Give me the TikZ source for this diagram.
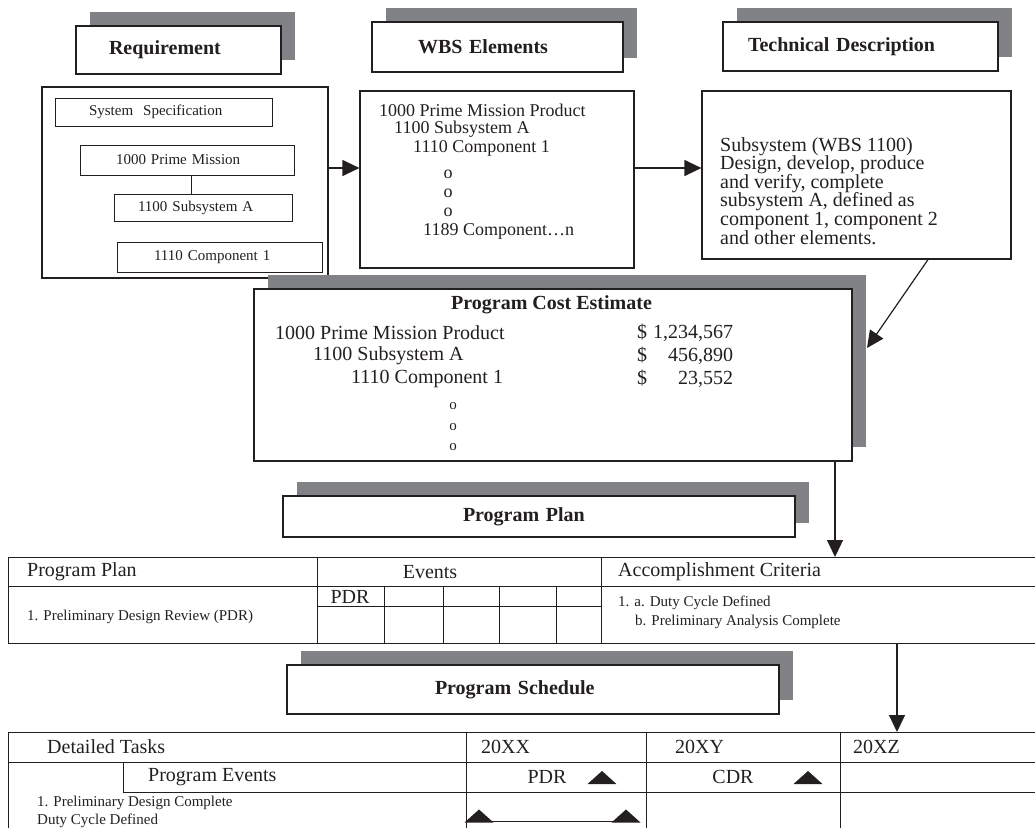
\documentclass[tikz,border=0pt]{standalone}
\usepackage{fontspec}
\setmainfont{Liberation Serif}
\usetikzlibrary{arrows.meta,shadows}

\definecolor{ink}{RGB}{35,31,32}
\definecolor{shade}{RGB}{128,130,133}

\tikzset{
  panel/.style={draw, line width=1.2pt, inner sep=0pt},
  titlebox/.style={panel, fill=white, align=left, inner ysep=0pt,
    drop shadow={shadow xshift=14pt, shadow yshift=14pt, fill=shade, opacity=1},
    font=\fontsize{20}{20}\selectfont\bfseries},
  specbox/.style={panel, line width=1pt, align=left, inner ysep=0pt,
    font=\fontsize{15}{15}\selectfont},
  bigtxt/.style={inner sep=0pt, font={\fontsize{20}{18.6}\selectfont\lineskiplimit=-20pt}},
  midtxt/.style={inner sep=0pt, font=\fontsize{18}{18}\selectfont},
  smalltxt/.style={inner sep=0pt, font=\fontsize{15}{15}\selectfont},
  grid/.style={line width=1pt},
  flow/.style={line width=1.2pt, -{Triangle[length=17pt,width=16pt]}},
  milestone/.pic={\fill (-14.5,6.5) -- (0,-6.5) -- (14.5,6.5) -- cycle;}
}

\begin{document}
\begin{tikzpicture}[x=1pt,y=-1pt,color=ink]
  \clip (0,0) rectangle (1035,827);

  % requirement
  \node[titlebox, minimum width=205pt, minimum height=48pt, text width=139pt, inner xsep=33pt] (reqtitle) at (178.5,50) {Requirement};
  \node[panel, minimum width=286pt, minimum height=191pt] (req) at (185,182.5) {};
  \node[specbox, minimum width=217pt, minimum height=28pt, text width=149pt, inner xsep=34pt] (sysspec) at (163.5,112) {System\ \ Specification};
  \node[specbox, minimum width=214pt, minimum height=30pt, text width=142pt, inner xsep=36pt] (prime) at (187,160) {1000 Prime Mission};
  \node[specbox, minimum width=178pt, minimum height=27pt, text width=130pt, inner xsep=24pt] (subA) at (203,207.5) {1100 Subsystem A};
  \node[specbox, minimum width=205pt, minimum height=30pt, text width=131pt, inner xsep=37pt] (comp) at (219.5,257) {1110 Component 1};
  \draw[line width=1pt] ([xshift=4pt]prime.south) -- ([xshift=4pt]prime.south |- subA.north);

  % wbs elements
  \node[titlebox, minimum width=251pt, minimum height=50pt, text width=159pt, inner xsep=46pt] (wbstitle) at (497.5,47) {WBS Elements};
  \node[panel, minimum width=274pt, minimum height=177pt] (wbs) at (497,179.5) {};
  \node[midtxt, anchor=west] (w1) at (379,110) {1000 Prime Mission Product};
  \node[midtxt, anchor=west] (w2) at (394,129) {1100 Subsystem A};
  \node[midtxt, anchor=west] (w3) at (413,148) {1110 Component 1};
  \node[midtxt] (wo1) at (448,174) {o};
  \node[midtxt] (wo2) at (448,193) {o};
  \node[midtxt] (wo3) at (448,212) {o};
  \node[midtxt, anchor=west] (w4) at (423,231) {1189 Component\ldots n};

  % technical description
  \node[titlebox, minimum width=275pt, minimum height=49pt, text width=225pt, inner xsep=25pt] (techtitle) at (860.5,46.5) {Technical Description};
  \node[panel, minimum width=309pt, minimum height=168pt] (tech) at (856.5,175) {};
  \node[bigtxt, align=left, anchor=north west] (techtxt) at (720,137) {Subsystem (WBS 1100)\\
    Design, develop, produce\\
    and verify, complete\\
    subsystem A, defined as\\
    component 1, component 2\\
    and other elements.};

  % cost estimate
  \node[panel, fill=white, drop shadow={shadow xshift=14pt, shadow yshift=14pt, fill=shade, opacity=1},
    minimum width=598pt, minimum height=172pt] (cost) at (553,375) {};
  \node[bigtxt, font=\fontsize{20}{20}\selectfont\bfseries, anchor=west] (costhead) at (451,305) {Program Cost Estimate};
  \node[bigtxt, anchor=west] (c1) at (275,333) {1000 Prime Mission Product};
  \node[bigtxt, anchor=west] (c2) at (313,356) {1100 Subsystem A};
  \node[bigtxt, anchor=west] (c3) at (351,379) {1110 Component 1};
  \node[bigtxt, anchor=west] (a1) at (637,333) {\$\makebox[86pt][r]{1,234,567}};
  \node[bigtxt, anchor=west] (a2) at (637,356) {\$\makebox[86pt][r]{456,890}};
  \node[bigtxt, anchor=west] (a3) at (637,379) {\$\makebox[86pt][r]{23,552}};
  \node[smalltxt] (co1) at (453,406) {o};
  \node[smalltxt] (co2) at (453,427) {o};
  \node[smalltxt] (co3) at (453,447) {o};

  % program plan
  \node[titlebox, minimum width=512pt, minimum height=41pt, text width=152pt, inner xsep=180pt] (plantitle) at (539,516.5) {Program Plan};
  \node[panel, line width=1pt, minimum width=1032pt, minimum height=86pt, anchor=north west] (plantab) at (8,557) {};
  \draw[grid] (8,586) -- (1040,586) (317,557) -- (317,643) (601,557) -- (601,643) (317,606) -- (601,606);
  \foreach \x in {384,443,499,556}
    \draw[grid] (\x,586) -- (\x,643);
  \node[bigtxt, anchor=west] (pp) at (27,572) {Program Plan};
  \node[bigtxt] (ev) at (430,572) {Events};
  \node[bigtxt, anchor=west] (acc) at (618,572) {Accomplishment Criteria};
  \node[bigtxt] (pdr) at (350,597) {PDR};
  \node[smalltxt, anchor=west] (pp1) at (27,617) {1. Preliminary Design Review (PDR)};
  \node[smalltxt, anchor=west] (acc1) at (618,603) {1. a. Duty Cycle Defined};
  \node[smalltxt, anchor=west] (acc2) at (635,622) {b. Preliminary Analysis Complete};

  % program schedule
  \node[titlebox, minimum width=492pt, minimum height=49pt, text width=196pt, inner xsep=148pt] (schedtitle) at (533,689.5) {Program Schedule};
  \node[panel, line width=1pt, minimum width=1032pt, minimum height=110pt, anchor=north west] (schedtab) at (8,732) {};
  \draw[grid] (8,762) -- (1040,762) (123,792) -- (1040,792) (123,762) -- (123,792);
  \foreach \x in {466,646,840}
    \draw[grid] (\x,732) -- (\x,842);
  \node[bigtxt, anchor=west] (dt) at (47,747) {Detailed Tasks};
  \node[bigtxt, anchor=west] (y1) at (481,747) {20XX};
  \node[bigtxt, anchor=west] (y2) at (675,747) {20XY};
  \node[bigtxt, anchor=west] (y3) at (853,747) {20XZ};
  \node[bigtxt, anchor=west] (pe) at (148,777) {Program Events};
  \node[bigtxt] (spdr) at (547,777) {PDR};
  \node[bigtxt] (scdr) at (733,777) {CDR};
  \pic at (602,777.5) {milestone};
  \pic at (808,777.5) {milestone};
  \node[smalltxt, anchor=west] (t1) at (37,803) {1. Preliminary Design Complete};
  \node[smalltxt, anchor=west] (t2) at (37,821) {Duty Cycle Defined};
  \pic at (479,816) {milestone};
  \pic at (626,816) {milestone};
  \draw[grid] (479,821) -- (626,821);

  % connectors
  \coordinate (rowy) at (0,168);
  \draw[flow] (req.east |- rowy) -- (wbs.west |- rowy);
  \draw[flow] (wbs.east |- rowy) -- (tech.west |- rowy);
  \coordinate (costin) at (867,348);
  \draw[flow] ([xshift=71.5pt]tech.south) -- (costin);
  \coordinate (downa) at (835,0);
  \draw[flow] (cost.south -| downa) -- (plantab.north -| downa);
  \coordinate (downb) at (897,0);
  \draw[flow] (plantab.south -| downb) -- (schedtab.north -| downb);
\end{tikzpicture}
\end{document}
